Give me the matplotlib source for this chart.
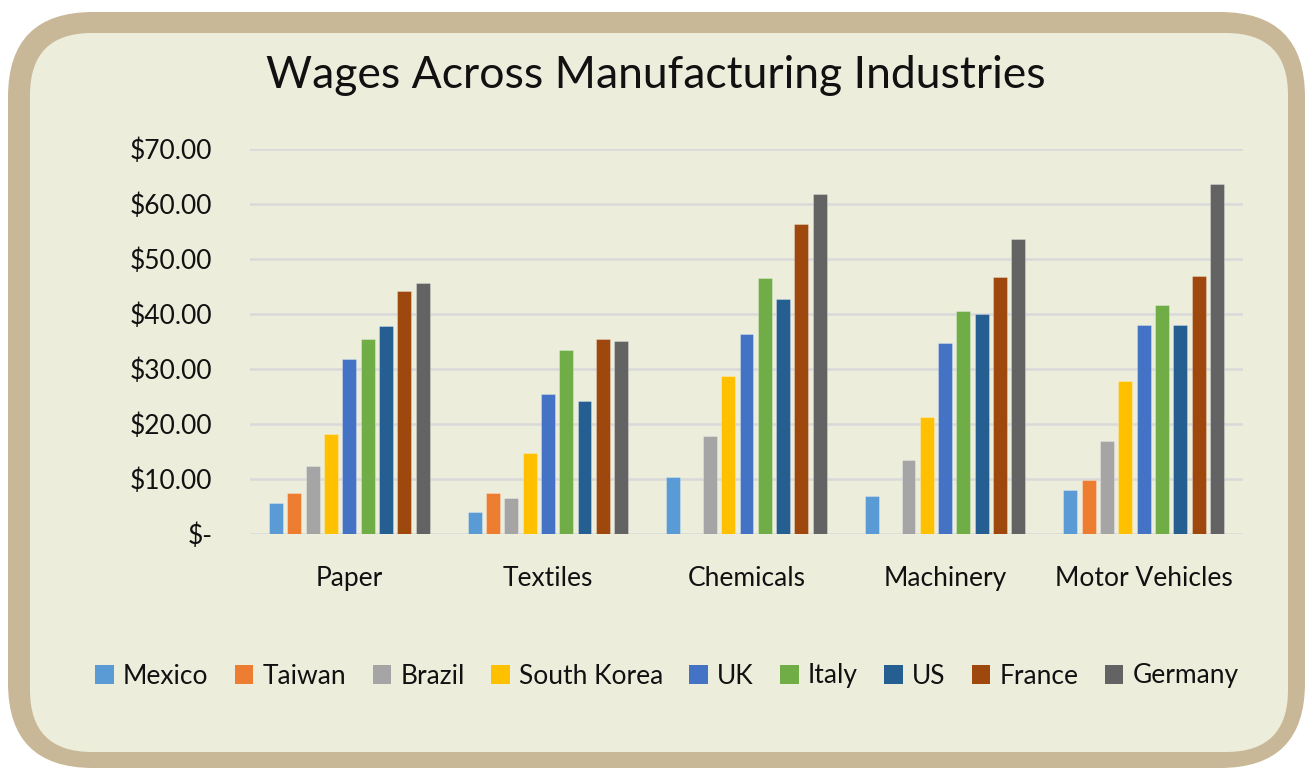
import matplotlib
matplotlib.use("Agg")
import matplotlib.pyplot as plt
import numpy as np
from matplotlib.patches import FancyBboxPatch, Patch

categories = ["Paper", "Textiles", "Chemicals", "Machinery", "Motor Vehicles"]
countries = ["Mexico", "Taiwan", "Brazil", "South Korea", "UK", "Italy", "US", "France", "Germany"]
mexico = [5.6, 4.0, 10.3, 7.0, 8.0]
taiwan = [7.5, 7.5, 0, 0, 9.8]
brazil = [12.3, 6.6, 17.8, 13.5, 16.9]
south_korea = [18.2, 14.8, 28.7, 21.3, 27.8]
uk = [31.8, 25.5, 36.4, 34.8, 38.0]
italy = [35.5, 33.4, 46.5, 40.6, 41.6]
us = [37.9, 24.1, 42.7, 40.0, 38.0]
france = [44.1, 35.5, 56.3, 46.7, 46.9]
germany = [45.6, 35.1, 61.9, 53.7, 63.6]
series = [mexico, taiwan, brazil, south_korea, uk, italy, us, france, germany]
yticks = [0, 10, 20, 30, 40, 50, 60, 70]
ytick_labels = ["$-", "$10.00", "$20.00", "$30.00", "$40.00", "$50.00", "$60.00", "$70.00"]

colors = ["#5B9BD5", "#ED7D31", "#A5A5A5", "#FFC000", "#4472C4",
          "#70AD47", "#255E91", "#9E480E", "#636363"]
panel = "#EDEDDC"
tan = "#C9B897"
font = ["Lato", "DejaVu Sans"]
plt.rcParams["font.family"] = font

W, H = 1307, 770
fig = plt.figure(figsize=(W / 100, H / 100), dpi=100)
fig.patch.set_facecolor("white")

def fbox(x0, y0, x1, y1, r, color, z):
    p = FancyBboxPatch((x0 / W, 1 - y1 / H), (x1 - x0) / W, (y1 - y0) / H,
                       boxstyle=f"round,pad=0,rounding_size={r / W}",
                       transform=fig.transFigure, facecolor=color,
                       edgecolor="none", zorder=z, mutation_aspect=W / H)
    fig.patches.append(p)

fbox(8, 12, 1305, 768, 85, tan, -2)
fbox(30, 33, 1288, 752, 62, panel, -1)

ax = fig.add_axes([250 / W, 1 - 534 / H, (1243 - 250) / W, (534 - 149) / H])
ax.set_zorder(5)
ax.set_facecolor("none")
n = len(countries)
x = np.arange(len(categories))
group = 0.83
slot = group / n
bw = slot * 0.76
for i, (vals, c) in enumerate(zip(series, colors)):
    ax.bar(x - group / 2 + slot * (i + 0.5), vals, width=bw, color=c,
           edgecolor="#FFFFFF55", linewidth=0.6, zorder=3)

ax.set_xlim(-0.5, len(categories) - 0.5)
ax.set_ylim(0, 70)
ax.set_yticks(yticks)
ax.set_yticklabels(ytick_labels)
ax.set_xticks(x)
ax.set_xticklabels(categories)
ax.grid(axis="y", color="#D9D9D9", linewidth=1.8, zorder=0)
ax.set_axisbelow(True)
for s in ax.spines.values():
    s.set_visible(False)
ax.tick_params(axis="both", length=0, labelsize=19, colors="#111111")
ax.tick_params(axis="y", pad=27)
ax.tick_params(axis="x", pad=23)

fig.text(656 / W, 1 - 75 / H, "Wages Across Manufacturing Industries",
         ha="center", va="center", fontsize=32, color="#111111", zorder=6)

handles = [Patch(facecolor=c, edgecolor="none") for c in colors]
leg = fig.legend(handles, countries, loc="center", bbox_to_anchor=(667 / W, 1 - 676 / H),
                 ncol=n, frameon=False, fontsize=19, handlelength=0.7, handleheight=0.7,
                 handletextpad=0.35, columnspacing=1.0, labelcolor="#111111")
leg.set_zorder(6)

fig.savefig("out.png", dpi=100, facecolor=fig.get_facecolor())
